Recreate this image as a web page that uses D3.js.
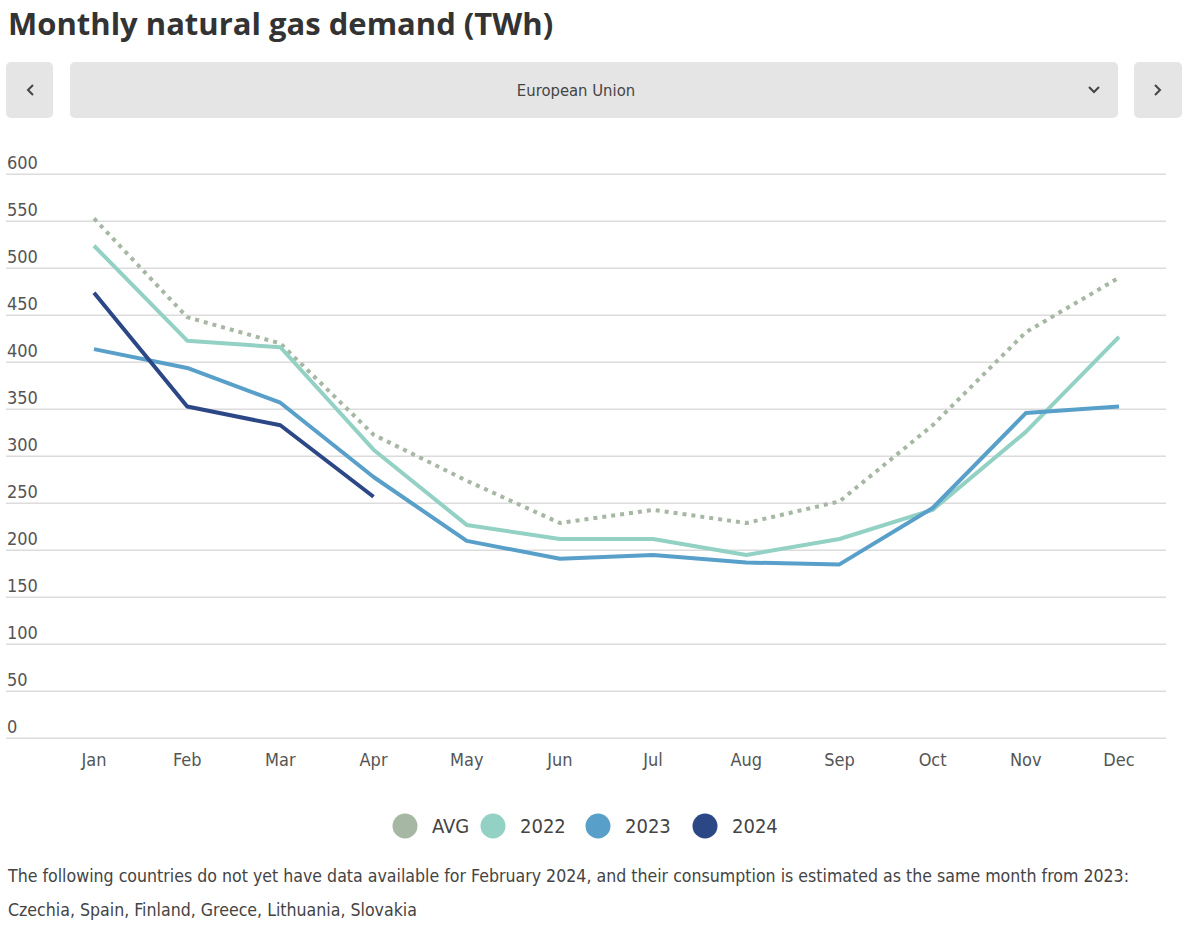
<!DOCTYPE html>
<html>
<head>
<meta charset="utf-8">
<script src="https://cdn.jsdelivr.net/npm/d3@7"></script>
<style>
  html, body { margin: 0; padding: 0; background: #fff; }
  svg { display: block; }
</style>
</head>
<body>
<svg id="chart" width="1200" height="929"></svg>
<script>
const months = ["Jan","Feb","Mar","Apr","May","Jun","Jul","Aug","Sep","Oct","Nov","Dec"];
const avgValues = [553, 448, 420, 323, 274, 229, 243, 229, 252, 333, 432, 490];
const v2022 = [524, 423, 416, 307, 227, 212, 212, 195, 212, 243, 326, 427];
const v2023 = [414, 394, 357, 278, 210, 191, 195, 187, 185, 245, 346, 353];
const v2024 = [474, 353, 333, 257];
const yTicks = [0, 50, 100, 150, 200, 250, 300, 350, 400, 450, 500, 550, 600];
const seriesNames = ["AVG", "2022", "2023", "2024"];
const seriesColors = ["#a6b7a3", "#92d1c4", "#589fc9", "#2c4786"];
const titleText = "Monthly natural gas demand (TWh)";
const selectorText = "European Union";
const noteLines = [
  "The following countries do not yet have data available for February 2024, and their consumption is estimated as the same month from 2023:",
  "Czechia, Spain, Finland, Greece, Lithuania, Slovakia"
];

const svg = d3.select("#chart");
const labelFont = "'DejaVu Sans Condensed', 'Liberation Sans Narrow', 'Roboto', sans-serif";
const narrowFont = "'Liberation Sans Narrow', 'DejaVu Sans Condensed', sans-serif";

// Title
svg.append("text")
  .attr("x", 8).attr("y", 35)
  .attr("font-family", "'Open Sans', 'Noto Sans', sans-serif")
  .attr("font-weight", 700)
  .attr("font-size", 31)
  .attr("fill", "#333")
  .text(titleText);

// Selector bar
const bar = svg.append("g");
bar.append("rect").attr("x", 6).attr("y", 62).attr("width", 47).attr("height", 56).attr("rx", 5).attr("fill", "#e5e5e5");
bar.append("rect").attr("x", 70).attr("y", 62).attr("width", 1048).attr("height", 56).attr("rx", 5).attr("fill", "#e5e5e5");
bar.append("rect").attr("x", 1134).attr("y", 62).attr("width", 48).attr("height", 56).attr("rx", 5).attr("fill", "#e5e5e5");
bar.append("path").attr("d", "M33,85 L28,90 L33,95").attr("fill", "none").attr("stroke", "#444").attr("stroke-width", 2);
bar.append("path").attr("d", "M1155,85 L1160,90 L1155,95").attr("fill", "none").attr("stroke", "#444").attr("stroke-width", 2);
bar.append("path").attr("d", "M1089,87 L1094,92 L1099,87").attr("fill", "none").attr("stroke", "#444").attr("stroke-width", 2);
bar.append("text")
  .attr("x", 576).attr("y", 96)
  .attr("text-anchor", "middle")
  .attr("font-family", labelFont)
  .attr("font-size", 16.5)
  .attr("fill", "#444")
  .text(selectorText);

// Scales
const x = d3.scalePoint().domain(months).range([94, 1119]);
const y = d3.scaleLinear().domain([0, 600]).range([738.3, 174.3]);

// Grid + y labels
const grid = svg.append("g");
grid.selectAll("line").data(yTicks).join("line")
  .attr("x1", 6).attr("x2", 1166)
  .attr("y1", d => y(d)).attr("y2", d => y(d))
  .attr("stroke", "#dcdcdc").attr("stroke-width", 1.5);
grid.selectAll("text").data(yTicks).join("text")
  .attr("x", 7).attr("y", d => y(d) - 5)
  .attr("font-family", labelFont)
  .attr("font-size", 18)
  .attr("fill", "#555")
  .text(d => d);

// x labels
svg.append("g").selectAll("text").data(months).join("text")
  .attr("x", d => x(d)).attr("y", 766)
  .attr("text-anchor", "middle")
  .attr("font-family", labelFont)
  .attr("font-size", 18)
  .attr("fill", "#555")
  .text(d => d);

// Lines
const line = d3.line().x((d, i) => x(months[i])).y(d => y(d));
const data = [avgValues, v2022, v2023, v2024];
const lines = svg.append("g");
data.forEach((vals, i) => {
  lines.append("path")
    .datum(vals)
    .attr("d", line)
    .attr("fill", "none")
    .attr("stroke", seriesColors[i])
    .attr("stroke-width", 4)
    .attr("stroke-linejoin", "round")
    .attr("stroke-dasharray", i === 0 ? "4,5" : null);
});

// Legend
const legendX = [405, 493, 598, 705];
const legend = svg.append("g");
seriesNames.forEach((name, i) => {
  legend.append("circle").attr("cx", legendX[i]).attr("cy", 826).attr("r", 12.5).attr("fill", seriesColors[i]);
  legend.append("text")
    .attr("x", legendX[i] + 27).attr("y", 833)
    .attr("font-family", labelFont)
    .attr("font-size", 20)
    .attr("fill", "#444")
    .text(name);
});

// Note
svg.append("g").selectAll("text").data(noteLines).join("text")
  .attr("x", 8).attr("y", (d, i) => 882 + i * 34)
  .attr("font-family", narrowFont)
  .attr("font-size", 17.6)
  .attr("fill", "#444")
  .text(d => d);
</script>
</body>
</html>
